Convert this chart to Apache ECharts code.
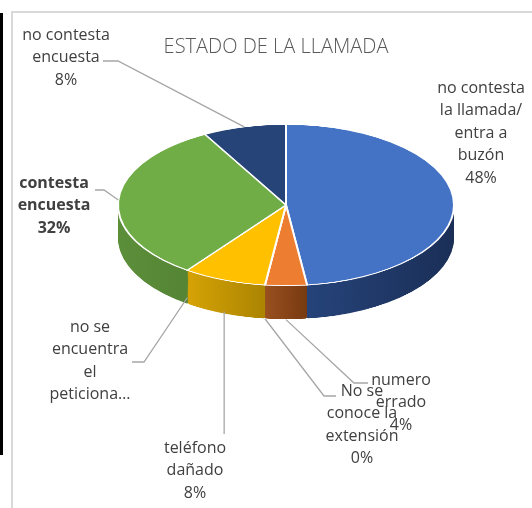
<!DOCTYPE html>
<html>
<head>
<meta charset="utf-8">
<script src="https://cdn.jsdelivr.net/npm/echarts@6/dist/echarts.min.js"></script>
<style>
  html, body { margin: 0; padding: 0; background: #fff; }
  #wrap { position: relative; width: 532px; height: 508px; overflow: hidden; }
  /* the pie body is drawn round, then flattened to look tilted */
  #pie3d { position: absolute; left: 0; top: 0; width: 532px; height: 1060px; transform: scaleY(0.48); transform-origin: 0 0; }
  #main { position: absolute; left: 0; top: 0; width: 532px; height: 508px; }
</style>
</head>
<body>
<div id="wrap">
  <div id="pie3d"></div>
  <div id="main"></div>
</div>
<script>
// data
const categories = [
  'no contesta la llamada/ entra a buzón',
  'numero errado',
  'No se conoce la extensión',
  'teléfono dañado',
  'no se encuentra el peticionario',
  'contesta encuesta',
  'no contesta encuesta'
]
const values = [48, 4, 0, 8, 0, 32, 8]
// label text as wrapped in the picture (the cut one has no percent)
const labelNames = [
  'no contesta\nla llamada/\nentra a\nbuzón',
  'numero\nerrado',
  'No se\nconoce la\nextensión',
  'teléfono\ndañado',
  'no se\nencuentra\nel\npeticiona…',
  'contesta\nencuesta',
  'no contesta\nencuesta'
]

// look
const topColors = ['#4472C4', '#ED7D31', '#A5A5A5', '#FFC000', '#5B9BD5', '#70AD47', '#264478']
const sideColors = [
  ['#27467F', '#1B2F57'],
  ['#9A5020', '#773A10'],
  ['#7C7C7C', '#636363'],
  ['#D6A306', '#A07C00'],
  ['#44749F', '#365D80'],
  ['#5C8F3A', '#4A762E'],
  ['#1D3459', '#152745']
]
const CX = 286, CY = 205, R = 168, TILT = 0.48, DEPTH = 34

// where each label sits, and the bend of its leader line
const labelSpots = [
  { x: 481, y: 77 },
  { x: 401, y: 369, line: [[354, 383], [368, 383]] },
  { x: 362, y: 380, line: [[324, 396], [336, 396]] },
  { x: 195, y: 437, line: 'down', end: 434 },
  { x: 90, y: 316, line: [[144, 362], [132, 362]] },
  { x: 54, y: 172, line: [[104, 190], [95, 190]] },
  { x: 66, y: 24, line: [[118, 61], [103, 61]] }
]

function sideGradient(c) {
  return {
    type: 'linear', x: 0, y: 0, x2: 1, y2: 0,
    colorStops: [{ offset: 0, color: c[0] }, { offset: 1, color: c[1] }]
  }
}

// ---- pie body (flattened) ----
let bodyChart = echarts.init(document.getElementById('pie3d'), null, { renderer: 'canvas' })
let cyA = CY / TILT
let depthA = DEPTH / TILT
let bodySeries = []
for (let off = depthA; off > 0; off -= 2) {
  bodySeries.push({
    type: 'pie',
    silent: true,
    center: [CX, cyA + off],
    radius: R,
    startAngle: 90,
    clockwise: true,
    label: { show: false },
    labelLine: { show: false },
    emphasis: { disabled: true },
    itemStyle: off === depthA ? { borderColor: '#fff', borderWidth: 2 } : { borderWidth: 0 },
    data: values.map((v, i) => ({ value: v, name: categories[i], itemStyle: { color: sideGradient(sideColors[i]) } }))
  })
}
bodySeries.push({
  type: 'pie',
  silent: true,
  center: [CX, cyA],
  radius: R,
  startAngle: 90,
  clockwise: true,
  label: { show: false },
  labelLine: { show: false },
  emphasis: { disabled: true },
  itemStyle: { borderColor: '#fff', borderWidth: 2 },
  data: values.map((v, i) => ({ value: v, name: categories[i], itemStyle: { color: topColors[i] } }))
})
bodyChart.setOption({ animation: false, series: bodySeries })

// ---- title, frame and labels ----
let myChart = echarts.init(document.getElementById('main'), null, { renderer: 'canvas' })
let option = {
  animation: false,
  backgroundColor: 'transparent',
  title: {
    text: 'ESTADO DE LA LLAMADA',
    left: 276,
    top: 37,
    padding: 0,
    textAlign: 'center',
    textStyle: { fontFamily: 'Open Sans', fontSize: 20, fontWeight: 300, color: '#595959' }
  },
  graphic: [
    { type: 'rect', shape: { x: 0, y: 13, width: 3, height: 442 }, style: { fill: '#000' } },
    { type: 'rect', shape: { x: 12, y: 12, width: 540, height: 520 }, style: { fill: 'none', stroke: '#D9D9D9', lineWidth: 2 } }
  ],
  series: [
    {
      type: 'pie',
      silent: true,
      center: [CX, CY],
      radius: R,
      startAngle: 90,
      clockwise: true,
      percentPrecision: 0,
      avoidLabelOverlap: false,
      minShowLabelAngle: 0,
      emphasis: { disabled: true },
      itemStyle: { color: 'rgba(0,0,0,0)', borderWidth: 0 },
      label: {
        show: true,
        color: '#404040',
        fontFamily: 'Open Sans',
        fontSize: 16,
        lineHeight: 22.5,
        formatter: function (p) {
          let name = labelNames[p.dataIndex]
          // a truncated label loses its percent, as in the picture
          if (name.endsWith('…')) return name
          return name + '\n' + p.percent + '%'
        }
      },
      labelLine: { show: true, length: 10, length2: 10, lineStyle: { color: '#A6A6A6', width: 1.3 } },
      labelLayout: function (params) {
        let spot = labelSpots[params.dataIndex]
        let out = { x: spot.x, y: spot.y, align: 'center', verticalAlign: 'top' }
        let pts = params.labelLinePoints
        if (spot.line && pts) {
          let dx = pts[0][0] - CX
          let dy = pts[0][1] - CY
          let ax = CX + dx
          let ay = CY + dy * TILT + DEPTH * Math.max(0, dy / R)
          if (spot.line === 'down') {
            out.labelLinePoints = [[ax, ay], [ax, spot.end]]
          } else {
            out.labelLinePoints = [[ax, ay]].concat(spot.line)
          }
        }
        return out
      },
      data: values.map((v, i) => ({
        value: v,
        name: categories[i],
        label: i === 5 ? { fontWeight: 'bold' } : {},
        labelLine: i === 0 ? { show: false } : {}
      }))
    }
  ]
}
option && myChart.setOption(option)
</script>
</body>
</html>
